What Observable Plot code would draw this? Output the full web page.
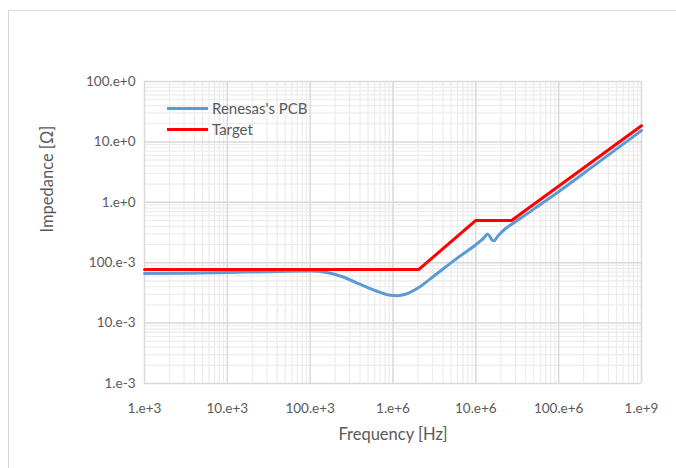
<!DOCTYPE html>
<html>
<head>
<meta charset="utf-8">
<script src="https://cdn.jsdelivr.net/npm/d3@7"></script>
<script src="https://cdn.jsdelivr.net/npm/@observablehq/plot@0.6"></script>
<style>
  html, body { margin: 0; padding: 0; background: #fff; }
  #wrap { position: relative; width: 676px; height: 468px; overflow: hidden; font-family: Lato, "Open Sans", sans-serif; }
  #frame { position: absolute; left: 8px; top: 10px; width: 720px; height: 520px; border: 1.5px solid #d9d9d9; box-sizing: border-box; }
  #legend { position: absolute; left: 167px; top: 98px; font-size: 15px; color: #595959; line-height: 21px; }
  .item { display: flex; align-items: center; height: 21px; }
  .sw { width: 41px; height: 3px; margin-right: 4px; }
</style>
</head>
<body>
<div id="wrap">
  <div id="frame"></div>
  <div id="chart"></div>
  <div id="legend"></div>
</div>
<script>
// Series names and colors
const seriesNames = ["Renesas's PCB", "Target"];
const seriesColors = ["#5b9bd5", "#ff0000"];

// Renesas's PCB impedance curve (frequency in Hz, impedance in ohm)
const pcbFreq = [1e3, 3e3, 1e4, 3e4, 1e5, 1.58e5, 2.51e5, 3.98e5, 6.31e5, 8.91e5, 1.12e6, 1.41e6, 2.0e6, 2.82e6, 3.98e6, 6.31e6, 1e7, 1.12e7, 1.26e7, 1.38e7, 1.48e7, 1.58e7, 1.66e7, 1.82e7, 2.14e7, 2.82e7, 4e7, 6e7, 1e8, 3.16e8, 1e9];
const pcbZ    = [0.066, 0.067, 0.069, 0.071, 0.073, 0.069, 0.058, 0.044, 0.034, 0.0292, 0.0285, 0.030, 0.038, 0.054, 0.078, 0.126, 0.198, 0.225, 0.26, 0.30, 0.27, 0.235, 0.23, 0.27, 0.34, 0.45, 0.62, 0.92, 1.5, 4.8, 15.4];

// Target impedance mask
const targetFreq = [1e3, 2.04e6, 1e7, 2.7e7, 1e9];
const targetZ    = [0.077, 0.077, 0.5, 0.5, 18.5];

// Axis ticks and labels
const xTicks = [1e3, 1e4, 1e5, 1e6, 1e7, 1e8, 1e9];
const xTickLabels = ["1.e+3", "10.e+3", "100.e+3", "1.e+6", "10.e+6", "100.e+6", "1.e+9"];
const yTicks = [1e-3, 1e-2, 1e-1, 1e0, 1e1, 1e2];
const yTickLabels = ["1.e-3", "10.e-3", "100.e-3", "1.e+0", "10.e+0", "100.e+0"];
const xTitle = "Frequency [Hz]";
const yTitle = "Impedance [Ω]";

const pcb = pcbFreq.map((f, i) => ({f, z: pcbZ[i]}));
const target = targetFreq.map((f, i) => ({f, z: targetZ[i]}));

const minorOf = (majors) => majors.slice(0, -1).flatMap(m => d3.range(2, 10).map(k => m * k));
const xMinor = minorOf(xTicks);
const yMinor = minorOf(yTicks);

const chart = Plot.plot({
  width: 676,
  height: 468,
  marginLeft: 144,
  marginRight: 35,
  marginTop: 81,
  marginBottom: 85,
  style: {fontFamily: "Lato, 'Open Sans', sans-serif", fontSize: "13.5px", color: "#595959", background: "transparent"},
  x: {type: "log", domain: [1e3, 1e9]},
  y: {type: "log", domain: [1e-3, 100]},
  marks: [
    Plot.ruleX(xMinor, {stroke: "#ececec", strokeWidth: 1.2}),
    Plot.ruleY(yMinor, {stroke: "#ececec", strokeWidth: 1.2}),
    Plot.ruleX(xTicks, {stroke: "#d9d9d9", strokeWidth: 1.5}),
    Plot.ruleY(yTicks, {stroke: "#d9d9d9", strokeWidth: 1.5}),
    Plot.axisX(xTicks, {tickSize: 0, tickPadding: 20, tickFormat: d => xTickLabels[xTicks.indexOf(d)], label: null}),
    Plot.axisY(yTicks, {tickSize: 0, tickPadding: 9, tickFormat: d => yTickLabels[yTicks.indexOf(d)], label: null}),
    Plot.text([xTitle], {frameAnchor: "bottom", dy: 56, text: d => d, fontSize: 16.5, fill: "#595959"}),
    Plot.text([yTitle], {frameAnchor: "left", dx: -97, rotate: -90, text: d => d, fontSize: 16.5, fill: "#595959"}),
    Plot.line(pcb, {x: "f", y: "z", stroke: seriesColors[0], strokeWidth: 3, curve: "monotone-x"}),
    Plot.line(target, {x: "f", y: "z", stroke: seriesColors[1], strokeWidth: 3})
  ]
});
document.getElementById("chart").appendChild(chart);

const legend = document.getElementById("legend");
seriesNames.forEach((name, i) => {
  const it = document.createElement("div");
  it.className = "item";
  const sw = document.createElement("div");
  sw.className = "sw";
  sw.style.background = seriesColors[i];
  const t = document.createElement("span");
  t.textContent = name;
  it.appendChild(sw); it.appendChild(t);
  legend.appendChild(it);
});
</script>
</body>
</html>
